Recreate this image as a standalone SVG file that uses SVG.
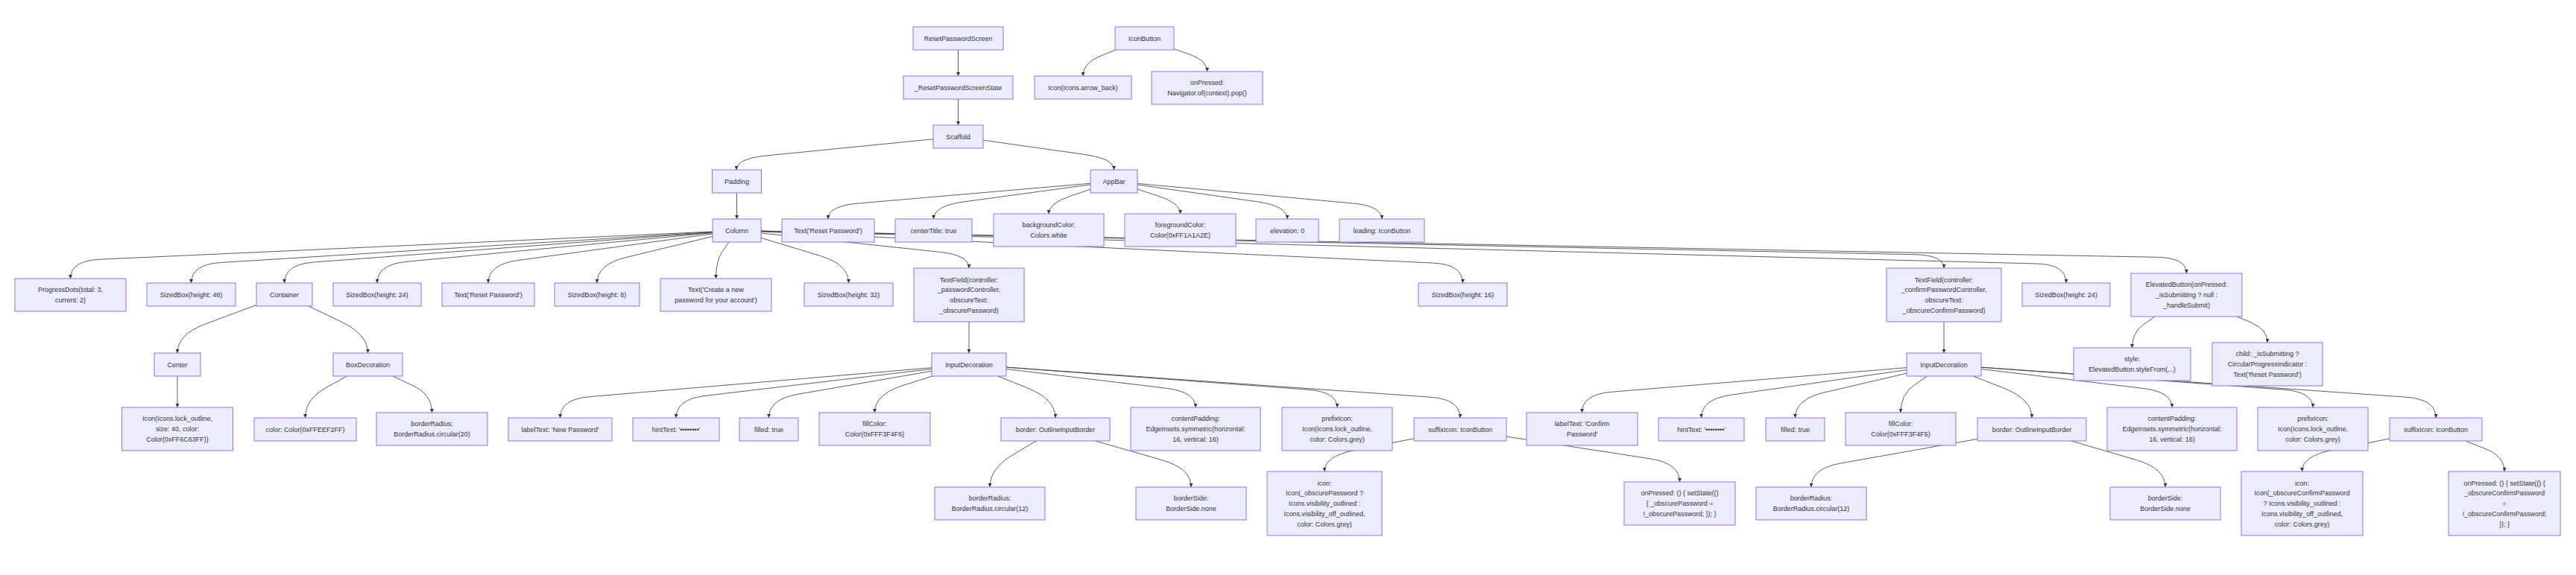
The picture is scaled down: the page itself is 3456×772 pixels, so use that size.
<svg xmlns="http://www.w3.org/2000/svg" width="3456" height="772" viewBox="0 0 3456 772">
<style>
.n rect{fill:#ECECFF;stroke:#9370DB;stroke-width:1}
.n text{font-family:"Liberation Sans",Arial,sans-serif;font-size:9px;fill:#333;text-anchor:middle}
#edges path{fill:none;stroke:#333;stroke-width:0.8;marker-end:url(#arr)}
</style>
<defs>
<marker id="arr" viewBox="0 0 10 10" refX="10" refY="5" markerWidth="5" markerHeight="5" markerUnits="userSpaceOnUse" orient="auto">
<path d="M0,0 L10,5 L0,10 z" fill="#333"/>
</marker>
</defs>
<rect width="3456" height="772" fill="#fff"/>
<g id="edges">
<path d="M1285.5,67 L1285.5,102"/>
<path d="M1285.5,133 L1285.5,168"/>
<path d="M1319,188.2 L1454.9,207.4 Q1494.5,213 1494.5,228"/>
<path d="M1252,186.8 L1027.8,209 Q988,213 988,228"/>
<path d="M988.5,259 L988.5,294"/>
<path d="M1496.8,67 L1474.9,75.8 Q1453,84.5 1453,102"/>
<path d="M1575,65.6 L1597.3,73.5 Q1619.5,81.5 1619.5,96"/>
<path d="M1463,246.2 L1150.9,273.1 Q1111,276.5 1111,294"/>
<path d="M1463,247.8 L1292.1,271.1 Q1252.5,276.5 1252.5,294"/>
<path d="M1463,254.1 L1435,263.6 Q1407,273 1407,287"/>
<path d="M1526,254 L1554.8,263.5 Q1583.5,273 1583.5,287"/>
<path d="M1526,248 L1687.4,270.9 Q1727,276.5 1727,294"/>
<path d="M1526,246.4 L1814.2,272.9 Q1854,276.5 1854,294"/>
<path d="M956,311 L134.5,348.2 Q94.5,350 94.5,374"/>
<path d="M956,311.5 L296.4,352.5 Q256.5,355 256.5,380"/>
<path d="M956,311.9 L421.4,352 Q381.5,355 381.5,380"/>
<path d="M956,312.6 L545.8,351.3 Q506,355 506,380"/>
<path d="M956,313.9 L694.6,349.6 Q655,355 655,380"/>
<path d="M956,317.4 L839.9,345.6 Q801,355 801,380"/>
<path d="M977.8,325 L969.2,337.5 Q960.5,350 960.5,374"/>
<path d="M1021,319.4 L1100.2,343.4 Q1138.5,355 1138.5,380"/>
<path d="M1021,312.9 L1260.2,338.3 Q1300,342.5 1300,360"/>
<path d="M1021,311 L1922.5,353.1 Q1962.5,355 1962.5,380"/>
<path d="M1021,310.2 L2568,341.7 Q2608,342.5 2608,360"/>
<path d="M1021,310.3 L2732,354 Q2772,355 2772,380"/>
<path d="M1021,310.1 L2893.5,345.3 Q2933.5,346 2933.5,367"/>
<path d="M344,409.5 L275.5,435 Q238,449 238,474"/>
<path d="M414,411 L457.4,431.8 Q493.5,449 493.5,474"/>
<path d="M238,505 L238,547"/>
<path d="M465.5,505 L437.5,520.5 Q409.5,536 409.5,561"/>
<path d="M526.8,505 L553.2,517.3 Q579.5,529.5 579.5,554"/>
<path d="M1300,432 L1300,474"/>
<path d="M1250,493.7 L791.4,532.6 Q751.5,536 751.5,561"/>
<path d="M1250,495.4 L946.7,531.3 Q907,536 907,561"/>
<path d="M1250,498.2 L1070.9,529.2 Q1031.5,536 1031.5,561"/>
<path d="M1251,505 L1211.6,517.4 Q1173.5,529.5 1173.5,554"/>
<path d="M1338.7,505 L1378.9,521.1 Q1416,536 1416,561"/>
<path d="M1350,495.5 L1564.3,521.2 Q1604,526 1604,547"/>
<path d="M1350,493.2 L1754.1,523.1 Q1794,526 1794,547"/>
<path d="M1350,493 L1919.1,533.2 Q1959,536 1959,561"/>
<path d="M1390,592 L1359,610.5 Q1328,629 1328,654"/>
<path d="M1469.7,592 L1559.6,617.9 Q1598,629 1598,654"/>
<path d="M1897,588.8 L1816.2,604.8 Q1777,612.5 1777,633"/>
<path d="M2021,586.1 L2214,615.9 Q2253.5,622 2253.5,647"/>
<path d="M2608,432 L2608,474"/>
<path d="M2558,493.6 L2162.3,526.2 Q2122.5,529.5 2122.5,554"/>
<path d="M2558,496.6 L2322.1,530.3 Q2282.5,536 2282.5,561"/>
<path d="M2558,501.2 L2447.5,526.9 Q2408.5,536 2408.5,561"/>
<path d="M2585.5,505 L2567.8,517.3 Q2550,529.5 2550,554"/>
<path d="M2647.3,505 L2688.8,521.3 Q2726,536 2726,561"/>
<path d="M2658,495.5 L2874.3,521.3 Q2914,526 2914,547"/>
<path d="M2658,493.2 L3063.1,523.1 Q3103,526 3103,547"/>
<path d="M2658,493 L3228.1,533.2 Q3268,536 3268,561"/>
<path d="M2653,589.4 L2469.4,622 Q2430,629 2430,654"/>
<path d="M2778.8,592 L2866.6,617.7 Q2905,629 2905,654"/>
<path d="M3206,588.9 L3127.7,604.6 Q3088.5,612.5 3088.5,633"/>
<path d="M3307.6,592 L3333.8,602.3 Q3360,612.5 3360,633"/>
<path d="M2891.2,425 L2875.9,435.5 Q2860.5,446 2860.5,467"/>
<path d="M3001.2,425 L3021.6,433.8 Q3042,442.5 3042,460"/>
</g>
<g id="n_rps" class="n"><rect x="1225" y="36" width="121" height="31"/><text x="1285.5" y="54.7">ResetPasswordScreen</text></g>
<g id="n_rpss" class="n"><rect x="1212" y="102" width="147" height="31"/><text x="1285.5" y="120.7">_ResetPasswordScreenState</text></g>
<g id="n_scaffold" class="n"><rect x="1252" y="168" width="67" height="31"/><text x="1285.5" y="186.7">Scaffold</text></g>
<g id="n_iconbutton" class="n"><rect x="1496" y="36" width="79" height="31"/><text x="1535.5" y="54.7">IconButton</text></g>
<g id="n_arrowback" class="n"><rect x="1388" y="102" width="130" height="31"/><text x="1453" y="120.7">Icon(Icons.arrow_back)</text></g>
<g id="n_navpop" class="n"><rect x="1545" y="96" width="149" height="44"/><text x="1619.5" y="114.3">onPressed:</text><text x="1619.5" y="128.1">Navigator.of(context).pop()</text></g>
<g id="n_appbar" class="n"><rect x="1463" y="228" width="63" height="31"/><text x="1494.5" y="246.7">AppBar</text></g>
<g id="n_padding" class="n"><rect x="955.5" y="228" width="66" height="31"/><text x="988.5" y="246.7">Padding</text></g>
<g id="n_column" class="n"><rect x="956" y="294" width="65" height="31"/><text x="988.5" y="312.7">Column</text></g>
<g id="n_title" class="n"><rect x="1049" y="294" width="124" height="31"/><text x="1111" y="312.7">Text('Reset Password')</text></g>
<g id="n_centertitle" class="n"><rect x="1201" y="294" width="103" height="31"/><text x="1252.5" y="312.7">centerTitle: true</text></g>
<g id="n_bgcolor" class="n"><rect x="1333" y="287" width="148" height="44"/><text x="1407" y="305.3">backgroundColor:</text><text x="1407" y="319.1">Colors.white</text></g>
<g id="n_fgcolor" class="n"><rect x="1509" y="287" width="149" height="44"/><text x="1583.5" y="305.3">foregroundColor:</text><text x="1583.5" y="319.1">Color(0xFF1A1A2E)</text></g>
<g id="n_elevation" class="n"><rect x="1685" y="294" width="84" height="31"/><text x="1727" y="312.7">elevation: 0</text></g>
<g id="n_leading" class="n"><rect x="1797" y="294" width="114" height="31"/><text x="1854" y="312.7">leading: IconButton</text></g>
<g id="n_progress" class="n"><rect x="20" y="374" width="149" height="44"/><text x="94.5" y="392.3">ProgressDots(total: 3,</text><text x="94.5" y="406.1">current: 2)</text></g>
<g id="n_sb48" class="n"><rect x="197" y="380" width="119" height="31"/><text x="256.5" y="398.7">SizedBox(height: 48)</text></g>
<g id="n_container" class="n"><rect x="344" y="380" width="75" height="31"/><text x="381.5" y="398.7">Container</text></g>
<g id="n_sb24a" class="n"><rect x="447" y="380" width="118" height="31"/><text x="506" y="398.7">SizedBox(height: 24)</text></g>
<g id="n_textreset" class="n"><rect x="593" y="380" width="124" height="31"/><text x="655" y="398.7">Text('Reset Password')</text></g>
<g id="n_sb8" class="n"><rect x="744" y="380" width="114" height="31"/><text x="801" y="398.7">SizedBox(height: 8)</text></g>
<g id="n_textcreate" class="n"><rect x="886" y="374" width="149" height="44"/><text x="960.5" y="392.3">Text('Create a new</text><text x="960.5" y="406.1">password for your account')</text></g>
<g id="n_sb32" class="n"><rect x="1079" y="380" width="119" height="31"/><text x="1138.5" y="398.7">SizedBox(height: 32)</text></g>
<g id="n_tf1" class="n"><rect x="1226" y="360" width="148" height="72"/><text x="1300" y="378.5">TextField(controller:</text><text x="1300" y="392.3">_passwordController,</text><text x="1300" y="406.1">obscureText:</text><text x="1300" y="419.9">_obscurePassword)</text></g>
<g id="n_sb16" class="n"><rect x="1903" y="380" width="119" height="31"/><text x="1962.5" y="398.7">SizedBox(height: 16)</text></g>
<g id="n_tf2" class="n"><rect x="2531" y="360" width="154" height="72"/><text x="2608" y="378.5">TextField(controller:</text><text x="2608" y="392.3">_confirmPasswordController,</text><text x="2608" y="406.1">obscureText:</text><text x="2608" y="419.9">_obscureConfirmPassword)</text></g>
<g id="n_sb24b" class="n"><rect x="2713" y="380" width="118" height="31"/><text x="2772" y="398.7">SizedBox(height: 24)</text></g>
<g id="n_elevated" class="n"><rect x="2859" y="367" width="149" height="58"/><text x="2933.5" y="385.4">ElevatedButton(onPressed:</text><text x="2933.5" y="399.2">_isSubmitting ? null :</text><text x="2933.5" y="413">_handleSubmit)</text></g>
<g id="n_center" class="n"><rect x="207" y="474" width="62" height="31"/><text x="238" y="492.7">Center</text></g>
<g id="n_boxdec" class="n"><rect x="447" y="474" width="93" height="31"/><text x="493.5" y="492.7">BoxDecoration</text></g>
<g id="n_iconlock" class="n"><rect x="163.5" y="547" width="149" height="58"/><text x="238" y="565.4">Icon(Icons.lock_outline,</text><text x="238" y="579.2">size: 40, color:</text><text x="238" y="593">Color(0xFF6C63FF))</text></g>
<g id="n_color" class="n"><rect x="341" y="561" width="137" height="31"/><text x="409.5" y="579.7">color: Color(0xFFEEF2FF)</text></g>
<g id="n_br20" class="n"><rect x="505" y="554" width="149" height="44"/><text x="579.5" y="572.3">borderRadius:</text><text x="579.5" y="586.1">BorderRadius.circular(20)</text></g>
<g id="n_id1" class="n"><rect x="1250" y="474" width="100" height="31"/><text x="1300" y="492.7">InputDecoration</text></g>
<g id="n_label1" class="n"><rect x="682" y="561" width="139" height="31"/><text x="751.5" y="579.7">labelText: 'New Password'</text></g>
<g id="n_hint1" class="n"><rect x="849" y="561" width="116" height="31"/><text x="907" y="579.7">hintText: '••••••••'</text></g>
<g id="n_filled1" class="n"><rect x="992" y="561" width="79" height="31"/><text x="1031.5" y="579.7">filled: true</text></g>
<g id="n_fill1" class="n"><rect x="1099" y="554" width="149" height="44"/><text x="1173.5" y="572.3">fillColor:</text><text x="1173.5" y="586.1">Color(0xFFF3F4F6)</text></g>
<g id="n_border1" class="n"><rect x="1343" y="561" width="146" height="31"/><text x="1416" y="579.7">border: OutlineInputBorder</text></g>
<g id="n_pad1" class="n"><rect x="1517" y="547" width="174" height="58"/><text x="1604" y="565.4">contentPadding:</text><text x="1604" y="579.2">EdgeInsets.symmetric(horizontal:</text><text x="1604" y="593">16, vertical: 16)</text></g>
<g id="n_prefix1" class="n"><rect x="1720" y="547" width="148" height="58"/><text x="1794" y="565.4">prefixIcon:</text><text x="1794" y="579.2">Icon(Icons.lock_outline,</text><text x="1794" y="593">color: Colors.grey)</text></g>
<g id="n_suffix1" class="n"><rect x="1897" y="561" width="124" height="31"/><text x="1959" y="579.7">suffixIcon: IconButton</text></g>
<g id="n_br12a" class="n"><rect x="1254" y="654" width="148" height="44"/><text x="1328" y="672.3">borderRadius:</text><text x="1328" y="686.1">BorderRadius.circular(12)</text></g>
<g id="n_side1" class="n"><rect x="1524" y="654" width="148" height="44"/><text x="1598" y="672.3">borderSide:</text><text x="1598" y="686.1">BorderSide.none</text></g>
<g id="n_icon1" class="n"><rect x="1700" y="633" width="154" height="86"/><text x="1777" y="651.6">icon:</text><text x="1777" y="665.4">Icon(_obscurePassword ?</text><text x="1777" y="679.2">Icons.visibility_outlined :</text><text x="1777" y="693">Icons.visibility_off_outlined,</text><text x="1777" y="706.8">color: Colors.grey)</text></g>
<g id="n_press1" class="n"><rect x="2179" y="647" width="149" height="58"/><text x="2253.5" y="665.4">onPressed: () { setState(()</text><text x="2253.5" y="679.2">{ _obscurePassword =</text><text x="2253.5" y="693">!_obscurePassword; }); }</text></g>
<g id="n_id2" class="n"><rect x="2558" y="474" width="100" height="31"/><text x="2608" y="492.7">InputDecoration</text></g>
<g id="n_label2" class="n"><rect x="2048" y="554" width="149" height="44"/><text x="2122.5" y="572.3">labelText: 'Confirm</text><text x="2122.5" y="586.1">Password'</text></g>
<g id="n_hint2" class="n"><rect x="2225" y="561" width="115" height="31"/><text x="2282.5" y="579.7">hintText: '••••••••'</text></g>
<g id="n_filled2" class="n"><rect x="2369" y="561" width="79" height="31"/><text x="2408.5" y="579.7">filled: true</text></g>
<g id="n_fill2" class="n"><rect x="2476" y="554" width="148" height="44"/><text x="2550" y="572.3">fillColor:</text><text x="2550" y="586.1">Color(0xFFF3F4F6)</text></g>
<g id="n_border2" class="n"><rect x="2653" y="561" width="146" height="31"/><text x="2726" y="579.7">border: OutlineInputBorder</text></g>
<g id="n_pad2" class="n"><rect x="2827" y="547" width="174" height="58"/><text x="2914" y="565.4">contentPadding:</text><text x="2914" y="579.2">EdgeInsets.symmetric(horizontal:</text><text x="2914" y="593">16, vertical: 16)</text></g>
<g id="n_prefix2" class="n"><rect x="3029" y="547" width="148" height="58"/><text x="3103" y="565.4">prefixIcon:</text><text x="3103" y="579.2">Icon(Icons.lock_outline,</text><text x="3103" y="593">color: Colors.grey)</text></g>
<g id="n_suffix2" class="n"><rect x="3206" y="561" width="124" height="31"/><text x="3268" y="579.7">suffixIcon: IconButton</text></g>
<g id="n_br12b" class="n"><rect x="2356" y="654" width="148" height="44"/><text x="2430" y="672.3">borderRadius:</text><text x="2430" y="686.1">BorderRadius.circular(12)</text></g>
<g id="n_side2" class="n"><rect x="2831" y="654" width="148" height="44"/><text x="2905" y="672.3">borderSide:</text><text x="2905" y="686.1">BorderSide.none</text></g>
<g id="n_icon2" class="n"><rect x="3007" y="633" width="163" height="86"/><text x="3088.5" y="651.6">icon:</text><text x="3088.5" y="665.4">Icon(_obscureConfirmPassword</text><text x="3088.5" y="679.2">? Icons.visibility_outlined :</text><text x="3088.5" y="693">Icons.visibility_off_outlined,</text><text x="3088.5" y="706.8">color: Colors.grey)</text></g>
<g id="n_press2" class="n"><rect x="3285" y="633" width="150" height="86"/><text x="3360" y="651.6">onPressed: () { setState(() {</text><text x="3360" y="665.4">_obscureConfirmPassword</text><text x="3360" y="679.2">=</text><text x="3360" y="693">!_obscureConfirmPassword;</text><text x="3360" y="706.8">}); }</text></g>
<g id="n_style" class="n"><rect x="2782" y="467" width="157" height="44"/><text x="2860.5" y="485.3">style:</text><text x="2860.5" y="499.1">ElevatedButton.styleFrom(...)</text></g>
<g id="n_child" class="n"><rect x="2968" y="460" width="148" height="58"/><text x="3042" y="478.4">child: _isSubmitting ?</text><text x="3042" y="492.2">CircularProgressIndicator :</text><text x="3042" y="506">Text('Reset Password')</text></g>
</svg>
